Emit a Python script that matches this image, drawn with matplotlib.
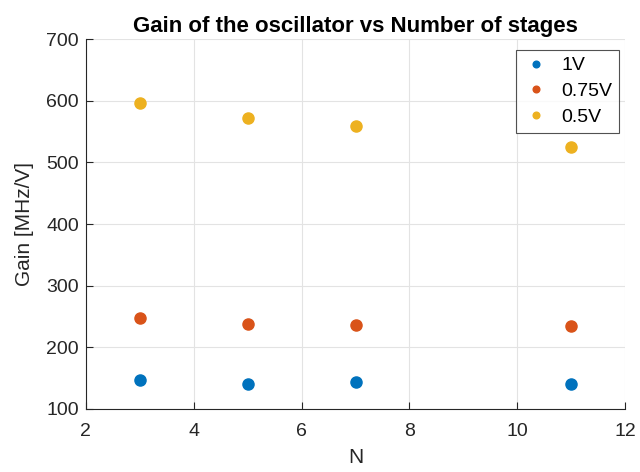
import matplotlib
matplotlib.use("Agg")
import matplotlib.pyplot as plt

# ==================================
# DATA
# ==================================

stages = [3, 5, 7, 11]

gain_1v = [147, 140, 143, 140]
gain_075v = [247, 238, 236, 234]
gain_05v = [597, 572, 559, 525]

labels = ["1V", "0.75V", "0.5V"]
colors = ["#0072BD", "#D95319", "#EDB120"]

xticks = [2, 4, 6, 8, 10, 12]
yticks = [100, 200, 300, 400, 500, 600, 700]

# ==================================
# PLOT
# ==================================

plt.rcParams["font.family"] = ["Liberation Sans", "DejaVu Sans"]
dark = "#262626"

fig = plt.figure(figsize=(6.4, 4.72), dpi=100)
ax = fig.add_axes([0.134, 0.1335, 0.843, 0.7835])

for vals, lab, col in zip([gain_1v, gain_075v, gain_05v], labels, colors):
    ax.plot(stages, vals, linestyle="none", marker="o",
            markersize=8, color=col, label=lab)

ax.set_xlim(2, 12)
ax.set_ylim(100, 700)
ax.set_xticks(xticks)
ax.set_yticks(yticks)

ax.grid(True, color="#e3e3e3", linewidth=0.8)
ax.set_axisbelow(True)

for side in ["top", "right"]:
    ax.spines[side].set_visible(False)
for side in ["left", "bottom"]:
    ax.spines[side].set_color(dark)
    ax.spines[side].set_linewidth(0.8)

ax.tick_params(direction="in", length=5, width=0.8, colors=dark,
               labelsize=14)
ax.tick_params(axis="x", pad=10)
ax.tick_params(axis="y", pad=5)

ax.set_xlabel("N", fontsize=15, color=dark, labelpad=6)
ax.set_ylabel("Gain [MHz/V]", fontsize=15, color=dark, labelpad=9)
ax.set_title("Gain of the oscillator vs Number of stages",
             fontsize=16, fontweight="bold", color="black", pad=5)

leg = ax.legend(loc="upper right", bbox_to_anchor=(619 / 640, 1 - 50 / 472),
                bbox_transform=fig.transFigure, borderaxespad=0,
                fontsize=14, markerscale=0.6, frameon=True,
                fancybox=False, handlelength=1.4, handletextpad=0.6,
                borderpad=0.35, labelspacing=0.42)
leg.get_frame().set_edgecolor(dark)
leg.get_frame().set_linewidth(0.8)

fig.savefig("out.png", dpi=100)
